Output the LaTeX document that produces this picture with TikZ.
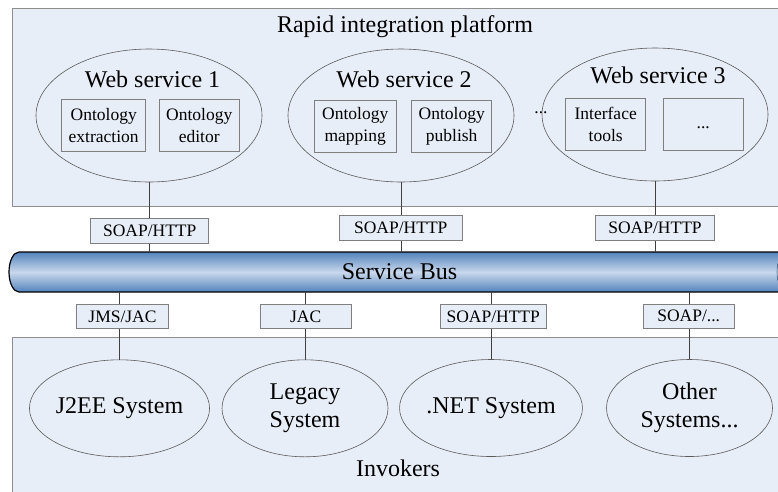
\documentclass[tikz,border=0pt]{standalone}
\usepackage{fontspec}
\setmainfont{Liberation Serif}
\usetikzlibrary{shapes.geometric}

\definecolor{panelfill}{HTML}{E8EEF7}
\definecolor{panelline}{HTML}{8E8E8E}
\definecolor{ellline}{HTML}{5A5A5A}
\definecolor{boxline}{HTML}{7F7F7F}
\definecolor{linkline}{HTML}{404040}
\definecolor{busedge}{HTML}{5383BC}
\definecolor{busmid}{HTML}{C9D8EC}

\begin{document}
\begin{tikzpicture}[x=1pt,y=-1pt,
  panel/.style={draw=panelline, fill=panelfill, line width=1pt},
  big/.style={font=\fontsize{24}{28}\selectfont, inner sep=0pt},
  svc/.style={ellipse, draw=ellline, line width=0.6pt, minimum width=226pt,
    minimum height=133pt, inner sep=0pt},
  sys/.style={ellipse, draw=ellline, line width=0.6pt, minimum width=166pt,
    minimum height=97pt, inner sep=0pt, align=center,
    font=\fontsize{24}{28}\selectfont},
  tool/.style={draw=boxline, fill=panelfill, line width=0.8pt,
    minimum height=52pt, inner sep=0pt, align=center,
    font=\fontsize{17.5}{22}\selectfont},
  proto/.style={draw=boxline, fill=panelfill, line width=0.8pt,
    minimum height=25pt, inner sep=0pt, font=\fontsize{17.5}{20}\selectfont},
  link/.style={draw=linkline, line width=0.8pt}]

\useasboundingbox (0,0) rectangle (778,491);
\clip (0,0) rectangle (778,491);

% platform and invoker panels
\path[panel] (12,8) rectangle (790,206);
\path[panel] (12,337) rectangle (790,500);
\node[big, anchor=base] (platform) at (405,32) {Rapid integration platform};
\node[big, anchor=base] (invokers) at (398,476) {Invokers};

% service bus cylinder
\path[draw=black, line width=1.2pt, top color=busedge, bottom color=busedge,
  middle color=busmid]
  (787,252) -- (19,252) arc[start angle=270, end angle=90, x radius=10, y radius=20]
  -- (787,292) arc[start angle=90, end angle=-90, x radius=10, y radius=20] -- cycle;
\draw[busedge!70!black, line width=0.6pt]
  (787,252) arc[start angle=270, end angle=90, x radius=10, y radius=20];
\node[big, minimum width=781pt, minimum height=40pt] (bus) at (399.5,272) {Service Bus};

% web services
\node[svc] (ws1) at (149,115.5) {};
\node[big, anchor=base] (ws1t) at (152.5,87.3) {Web service 1};
\node[tool, minimum width=84pt] (oext) at (103.7,125.5) {Ontology\\extraction};
\node[tool, minimum width=80pt] (oedit) at (199.2,125.5) {Ontology\\editor};

\node[svc] (ws2) at (401,115.5) {};
\node[big, anchor=base] (ws2t) at (404,87.3) {Web service 2};
\node[tool, minimum width=82pt] (omap) at (355.2,126.5) {Ontology\\mapping};
\node[tool, minimum width=80pt] (opub) at (451.7,126.5) {Ontology\\publish};

\node[font=\fontsize{17.5}{20}\selectfont, inner sep=0pt] (more) at (541,113) {...};

\node[svc] (ws3) at (655,114.5) {};
\node[big, anchor=base] (ws3t) at (658,83.3) {Web service 3};
\node[tool, minimum width=80pt] (itool) at (605.7,124.2) {Interface\\tools};
\node[tool, minimum width=80pt] (etc) at (703.3,124.2) {\strut...};

% invoker systems
\node[sys] (j2ee) at (119.5,408.3) {J2EE System};
\node[sys] (legacy) at (305,408.3) {Legacy\\System};
\node[sys] (dotnet) at (491,408) {.NET System};
\node[sys] (other) at (689.5,408) {Other\\Systems...};

% connectors
\draw[link] (ws1.south) -- (ws1.south |- bus.north);
\draw[link] (ws2.south) -- (ws2.south |- bus.north);
\draw[link] (ws3.south) -- (ws3.south |- bus.north);
\draw[link] (j2ee.north |- bus.south) -- (j2ee.north);
\draw[link] (legacy.north |- bus.south) -- (legacy.north);
\draw[link] (dotnet.north |- bus.south) -- (dotnet.north);
\draw[link] (other.north |- bus.south) -- (other.north);

% protocol labels
\node[proto, minimum width=118pt] (p1) at (149.7,230.8) {SOAP/HTTP};
\node[proto, minimum width=123pt] (p2) at (400.8,228.2) {SOAP/HTTP};
\node[proto, minimum width=119pt] (p3) at (655,228.2) {SOAP/HTTP};
\node[proto, minimum width=92pt, minimum height=24pt] (q1) at (122.5,316.3) {JMS/JAC};
\node[proto, minimum width=91pt, minimum height=24pt] (q2) at (305.7,316.3) {JAC};
\node[proto, minimum width=106pt, minimum height=24pt] (q3) at (493.2,316.3) {SOAP/HTTP};
\node[proto, minimum width=91pt, minimum height=24pt] (q4) at (688.7,316.3) {SOAP/...};

\end{tikzpicture}
\end{document}
